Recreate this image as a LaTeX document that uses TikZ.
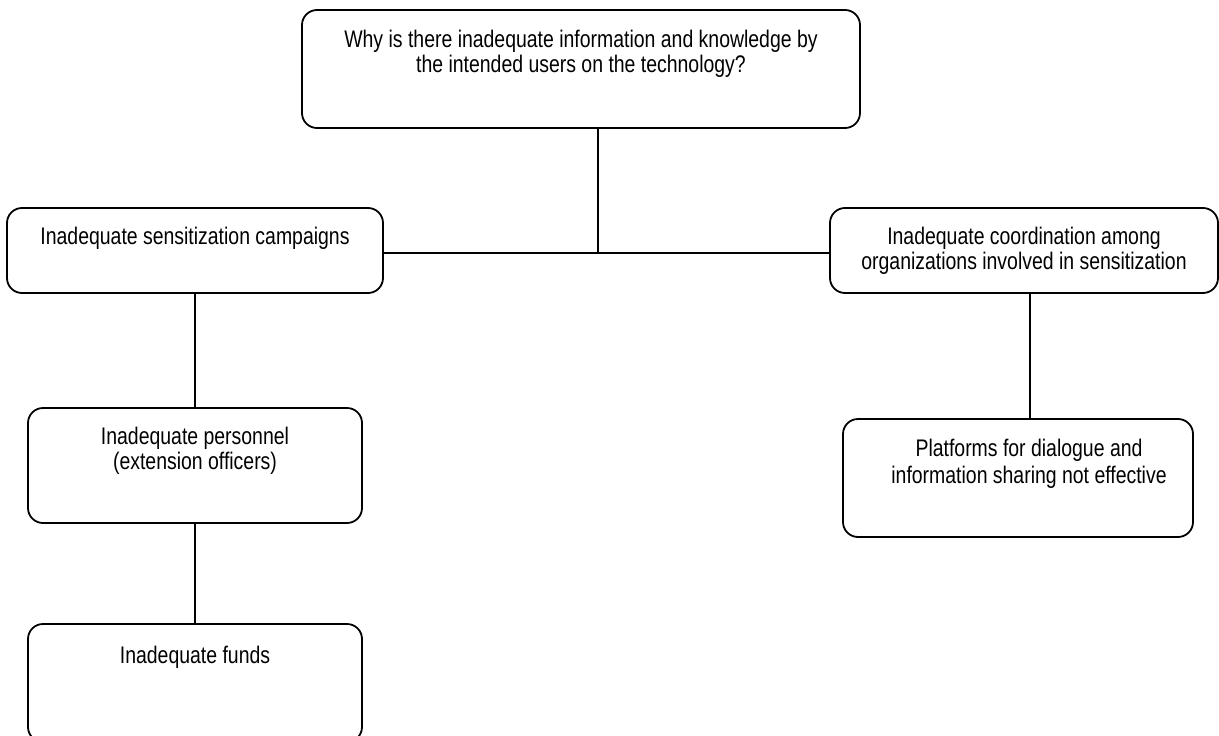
\documentclass[tikz,border=0pt]{standalone}
\usepackage{fontspec}
\setmainfont{Liberation Sans}[FakeStretch=0.81]
\usetikzlibrary{positioning,calc}
\tikzset{
  cause/.style={draw=black,line width=1.8pt,rounded corners=15pt,inner sep=0pt},
  boxtext/.style={anchor=north,align=center,inner sep=0pt,font=\fontsize{24}{25}\selectfont},
  conn/.style={draw=black,line width=1.6pt},
}

\begin{document}
\begin{tikzpicture}[x=1pt,y=-1pt]
\useasboundingbox (0,0) rectangle (1219,736);
% boxes
\node[cause,minimum width=558pt,minimum height=118pt] (why) at (581,69) {};
\node[cause,minimum width=376pt,minimum height=85pt] (campaigns) at (195,250.5) {};
\node[cause,minimum width=388pt,minimum height=85pt] (coordination) at (1024,250.5) {};
\node[cause,minimum width=334pt,minimum height=115pt] (personnel) at (195,465.5) {};
\node[cause,minimum width=350pt,minimum height=118pt] (platforms) at (1018,478) {};
\node[cause,minimum width=334pt,minimum height=118pt] (funds) at (195,683) {};
% texts
\node[boxtext] (why-t) at ([yshift=-21pt]why.north) {Why is there inadequate information and knowledge by\\the intended users on the technology?};
\node[boxtext] (campaigns-t) at ([yshift=-20pt]campaigns.north) {Inadequate sensitization campaigns};
\node[boxtext] (coordination-t) at ([yshift=-20pt]coordination.north) {Inadequate coordination among\\organizations involved in sensitization};
\node[boxtext] (personnel-t) at ([yshift=-20pt]personnel.north) {Inadequate personnel\\(extension officers)};
\node[boxtext,font=\fontsize{24}{27}\selectfont] (platforms-t) at ([xshift=11pt,yshift=-21pt]platforms.north) {Platforms for dialogue and\\information sharing not effective};
\node[boxtext] (funds-t) at ([yshift=-23pt]funds.north) {Inadequate funds};
% connectors
\coordinate (hub) at (598,253);
\coordinate (drop) at (1030,0);
\draw[conn] (why.south -| hub) -- (hub);
\draw[conn] (campaigns.east |- hub) -- (coordination.west |- hub);
\draw[conn] (campaigns.south) -- (personnel.north);
\draw[conn] (personnel.south) -- (funds.north);
\draw[conn] (coordination.south -| drop) -- (platforms.north -| drop);
\end{tikzpicture}
\end{document}
